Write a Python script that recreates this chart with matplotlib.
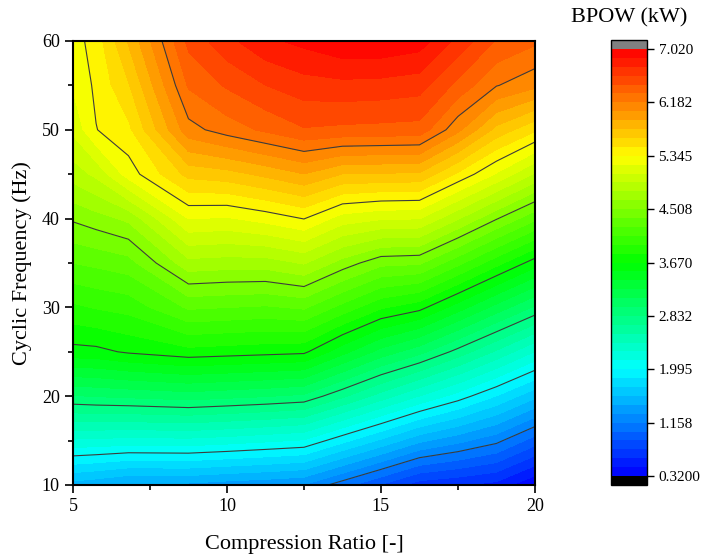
import numpy as np
import matplotlib.pyplot as plt
from matplotlib.colors import LinearSegmentedColormap
from matplotlib.ticker import MultipleLocator

plt.rcParams['font.family'] = ['Liberation Serif', 'DejaVu Serif']

# grid
ratio = [5, 5.75, 6.8, 8.75, 10, 11.25, 12.5, 13.75, 15, 16.25, 17.5, 18.75, 20]
freq = [10, 15, 20, 25, 30, 35, 40, 45, 50, 55, 60]
bpow = [
    [1.51, 1.47, 1.40, 1.40, 1.36, 1.33, 1.29, 1.08, 0.87, 0.66, 0.61, 0.55, 0.33],
    [2.25, 2.24, 2.22, 2.23, 2.20, 2.16, 2.12, 1.90, 1.69, 1.47, 1.34, 1.20, 0.95],
    [2.96, 2.98, 3.00, 3.04, 3.01, 2.98, 2.94, 2.72, 2.49, 2.27, 2.07, 1.85, 1.61],
    [3.62, 3.63, 3.69, 3.76, 3.74, 3.72, 3.70, 3.44, 3.20, 3.02, 2.78, 2.53, 2.27],
    [3.92, 3.96, 4.00, 4.25, 4.23, 4.21, 4.25, 4.04, 3.83, 3.72, 3.46, 3.20, 2.95],
    [4.23, 4.26, 4.31, 4.74, 4.72, 4.72, 4.80, 4.59, 4.41, 4.39, 4.13, 3.86, 3.60],
    [4.53, 4.59, 4.68, 5.21, 5.19, 5.26, 5.35, 5.14, 5.08, 5.07, 4.80, 4.52, 4.26],
    [4.85, 4.96, 5.27, 5.67, 5.71, 5.80, 5.90, 5.76, 5.75, 5.74, 5.46, 5.19, 4.91],
    [5.10, 5.34, 5.45, 6.13, 6.25, 6.35, 6.45, 6.43, 6.42, 6.41, 6.08, 5.72, 5.51],
    [5.22, 5.375, 5.61, 6.34, 6.48, 6.60, 6.68, 6.70, 6.69, 6.66, 6.42, 6.19, 6.08],
    [5.28, 5.41, 5.78, 6.50, 6.70, 6.85, 6.92, 7.00, 7.00, 6.95, 6.70, 6.45, 6.35],
]

cbar_ticks = [0.32, 1.158, 1.995, 2.832, 3.670, 4.508, 5.345, 6.182, 7.020]
cbar_labels = ["0.3200", "1.158", "1.995", "2.832", "3.670", "4.508", "5.345", "6.182", "7.020"]

cmap = LinearSegmentedColormap.from_list(
    "origin_rainbow", ["#0000ff", "#00ffff", "#00ff00", "#ffff00", "#ff0000"])
cmap.set_over("#808080")
cmap.set_under("black")
levels = np.linspace(cbar_ticks[0], cbar_ticks[-1], 49)

fig = plt.figure(figsize=(7.02, 5.59), dpi=100)
ax = fig.add_axes([0.104, 0.1324, 0.658, 0.7943])

cs = ax.contourf(ratio, freq, bpow, levels=levels, cmap=cmap, extend='both')
ax.contour(ratio, freq, bpow, levels=cbar_ticks[1:-1], colors='#3c3c3c', linewidths=0.8)

ax.set_xlim(5, 20)
ax.set_ylim(10, 60)
ax.set_xticks([5, 10, 15, 20])
ax.set_yticks([10, 20, 30, 40, 50, 60])
ax.xaxis.set_minor_locator(MultipleLocator(2.5))
ax.yaxis.set_minor_locator(MultipleLocator(5))
ax.tick_params(which='both', direction='out', top=False, right=False, width=1.2, labelsize=13)
ax.tick_params(which='major', length=6)
ax.tick_params(which='minor', length=3.5)
for s in ax.spines.values():
    s.set_linewidth(1.5)
ax.set_xlabel("Compression Ratio [-]", fontsize=16, labelpad=14)
ax.set_ylabel("Cyclic Frequency (Hz)", fontsize=16, labelpad=7)

cax = fig.add_axes([0.870, 0.1324, 0.0513, 0.796])
cb = fig.colorbar(cs, cax=cax, ticks=cbar_ticks, extendrect=True, extendfrac=0.021)
cb.set_ticklabels(cbar_labels)
cb.ax.tick_params(labelsize=11, direction='out', length=5, width=1)
cb.ax.minorticks_off()
cb.outline.set_linewidth(1)
fig.text(0.896, 0.968, "BPOW (kW)", ha='center', va='center', fontsize=16)

plt.savefig("out.png", dpi=100)
